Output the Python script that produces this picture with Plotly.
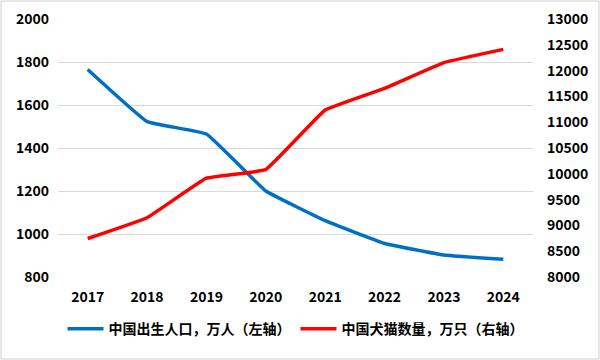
import plotly.graph_objects as go

years = ["2017", "2018", "2019", "2020", "2021", "2022", "2023", "2024"]
births = [1765, 1523, 1465, 1200, 1062, 956, 902, 882]
pets = [8746, 9149, 9915, 10084, 11235, 11655, 12155, 12411]
name_births = "中国出生人口，万人（左轴）"
name_pets = "中国犬猫数量，万只（右轴）"

font_family = "Noto Sans CJK SC, DejaVu Sans, sans-serif"

fig = go.Figure()
fig.add_trace(go.Scatter(x=years, y=births, name=name_births, mode="lines",
                         line=dict(color="#0070C0", width=3.5, shape="spline", smoothing=0.25)))
fig.add_trace(go.Scatter(x=years, y=pets, name=name_pets, mode="lines", yaxis="y2",
                         line=dict(color="#FF0000", width=3.5, shape="spline", smoothing=0.25)))

tf = dict(size=14, weight="bold", color="#000000")
fig.update_layout(
    width=600, height=360,
    margin=dict(l=58, r=67, t=19, b=83, autoexpand=False),
    paper_bgcolor="white", plot_bgcolor="white",
    font=dict(family=font_family, size=14, color="#000000"),
    showlegend=True,
    legend=dict(orientation="h", x=0.5, xanchor="center", y=-0.14, yanchor="top",
                font=dict(size=14, color="#000000", weight="bold"),
                itemwidth=36, tracegroupgap=0),
    xaxis=dict(type="category", range=[-0.5, 7.5], showgrid=False, showline=False,
               ticks="", tickfont=tf, ticklabelstandoff=10, automargin=False),
    yaxis=dict(range=[800, 2000], dtick=200, showgrid=True, gridcolor="#D9D9D9",
               gridwidth=1, zeroline=False, showline=False, ticks="",
               tickfont=tf, ticklabelstandoff=8, automargin=False),
    yaxis2=dict(range=[8000, 13000], dtick=500, overlaying="y", side="right",
                showgrid=False, zeroline=False, showline=False, ticks="",
                tickformat="d", tickfont=tf, ticklabelstandoff=13, automargin=False),
)
# outer border of whole chart
fig.add_shape(type="rect", xref="paper", yref="paper",
              x0=-57/475, x1=1+66/475, y0=-82/258, y1=1+18/258,
              line=dict(color="#D0D0D0", width=1))
fig.write_html("out.html", config={"displayModeBar": False},
               post_script="document.body.style.margin='0';document.body.style.overflow='hidden';")
